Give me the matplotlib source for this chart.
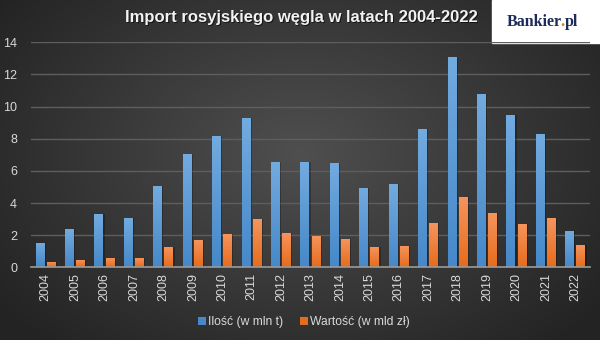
import numpy as np
import matplotlib
matplotlib.use("Agg")
import matplotlib.pyplot as plt
from matplotlib.colors import LinearSegmentedColormap

plt.rcParams['font.family'] = ['Liberation Sans', 'DejaVu Sans']

years = [str(y) for y in range(2004, 2023)]
ilosc = [1.51, 2.38, 3.32, 3.07, 5.06, 7.05, 8.17, 9.29, 6.55, 6.55, 6.49,
         4.93, 5.18, 8.60, 13.09, 10.78, 9.48, 8.29, 2.26]
wartosc = [0.33, 0.45, 0.58, 0.58, 1.26, 1.70, 2.07, 3.00, 2.13, 1.95, 1.76,
           1.26, 1.33, 2.76, 4.37, 3.38, 2.69, 3.07, 1.39]
series_labels = ['Ilość (w mln t)', 'Wartość (w mld zł)']
title = 'Import rosyjskiego węgla w latach 2004-2022'
yticks = [0, 2, 4, 6, 8, 10, 12, 14]

blue_top, blue_bot = '#72abdf', '#4688c9'
orange_top, orange_bot = '#f6955e', '#e66c1c'

W, H = 600, 340
fig = plt.figure(figsize=(W / 100, H / 100), dpi=100)

# radial background: lighter in the middle, darker towards the edges
bg = fig.add_axes([0, 0, 1, 1])
yy, xx = np.mgrid[0:H, 0:W]
r = np.sqrt(((xx - W * 0.5) / (W * 0.62)) ** 2 + ((yy - H * 0.45) / (H * 0.75)) ** 2)
shade = np.clip(0.31 - 0.17 * r, 0.14, 0.31)
bg.imshow(np.dstack([shade] * 3), extent=[0, W, H, 0], aspect='auto')
bg.set_xlim(0, W)
bg.set_ylim(H, 0)
bg.axis('off')

# logo box: navy wordmark with an orange dot
bg.add_patch(plt.Rectangle((492, 0), 108, 43, color='white', zorder=3))
logo_font = dict(fontsize=11.5, family='Liberation Serif', weight='bold', va='center')
navy, dot_orange = '#1c2b5a', '#e8701f'
renderer = fig.canvas.get_renderer()


def text_width(s):
    t = bg.text(0, 0, s, ha='left', **logo_font)
    w = t.get_window_extent(renderer).width
    t.remove()
    return w


lx = 507
w_dot_end = text_width('Bankier.')
w_all = text_width('Bankier.pl')
bg.text(lx, 22, 'Bankier', color=navy, ha='left', zorder=4, **logo_font)
bg.text(lx + w_dot_end, 22, '.', color=dot_orange, ha='right', zorder=4, **logo_font)
bg.text(lx + w_all, 22, 'pl', color=navy, ha='right', zorder=4, **logo_font)

# title with a soft drop shadow
bg.text(302.5, 18.5, title, color='black', alpha=0.6, fontsize=12, weight='bold',
        ha='center', va='center', zorder=4)
bg.text(301.5, 17.5, title, color='#f2f2f2', fontsize=12, weight='bold',
        ha='center', va='center', zorder=5)

ax = fig.add_axes([31 / W, 1 - 267.3 / H, (590 - 31) / W, (267.3 - 42.3) / H])
ax.patch.set_alpha(0)

x = np.arange(len(years))
bw = 0.305
off = 0.19


def grad_bars(xpos, vals, top, bot, label):
    bars = ax.bar(xpos, vals, bw, color=bot, label=label, zorder=3)
    cmap = LinearSegmentedColormap.from_list('g', [bot, top])
    grad = np.linspace(0, 1, 64).reshape(-1, 1)
    for b in bars:
        x0, y0 = b.get_x(), b.get_y()
        w, h = b.get_width(), b.get_height()
        # faint shadow to the right of each bar
        ax.bar(x0 + w / 2 + 0.04, h, w, color='black', alpha=0.25, zorder=2)
        im = ax.imshow(grad, cmap=cmap, extent=[x0, x0 + w, y0, y0 + h],
                       origin='lower', aspect='auto', zorder=4)
        im.set_clip_path(b)
    return bars


grad_bars(x - off, ilosc, blue_top, blue_bot, series_labels[0])
grad_bars(x + off, wartosc, orange_top, orange_bot, series_labels[1])

ax.set_xlim(-0.5, len(years) - 0.5)
ax.set_ylim(0, 14)
ax.set_yticks(yticks)
ax.set_yticklabels([str(v) for v in yticks])
ax.set_xticks(x)
ax.set_xticklabels(years, rotation=90)
ax.yaxis.grid(True, color='#5e5e5e', linewidth=1, zorder=0)
ax.set_axisbelow(True)
for s in ['top', 'right', 'left']:
    ax.spines[s].set_visible(False)
ax.spines['bottom'].set_color('#9a9a9a')
ax.spines['bottom'].set_linewidth(1.2)
ax.spines['bottom'].set_zorder(6)
ax.tick_params(axis='both', length=0, colors='#d9d9d9', labelsize=9)
ax.tick_params(axis='y', pad=10)
ax.tick_params(axis='x', pad=4)

leg = ax.legend(loc='center', bbox_to_anchor=((304 - 31) / (590 - 31), -0.245),
                ncol=2, frameon=False, fontsize=8.7, labelcolor='#d9d9d9',
                handlelength=0.65, handleheight=0.65, handletextpad=0.2,
                columnspacing=1.35)

fig.savefig('out.png', dpi=100)
